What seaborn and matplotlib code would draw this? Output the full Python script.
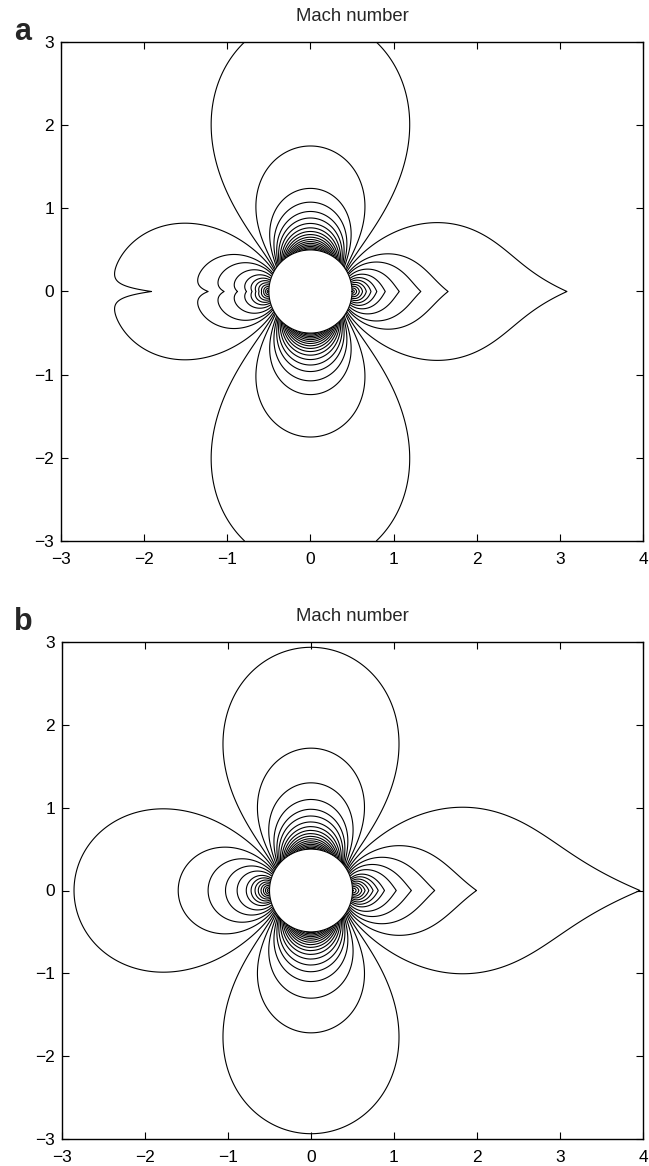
import numpy as np
import matplotlib
matplotlib.use("Agg")
import matplotlib.pyplot as plt
import seaborn as sns

# ---------------- data ----------------
panel_labels = ["a", "b"]
title_text = "Mach number"
x_ticks = [-3, -2, -1, 0, 1, 2, 3, 4]
y_ticks = [-3, -2, -1, 0, 1, 2, 3]
x_limits = [-3, 4]
y_limits = [-3, 3]

cylinder_radius = 0.5
mach_inf = 0.3

# contour levels (Mach number), panel a
levels_a = [0.005, 0.025, 0.048, 0.071, 0.094, 0.117, 0.140, 0.163, 0.1884,
            0.217, 0.2433, 0.2616, 0.287,
            0.3068, 0.3245, 0.3488, 0.365, 0.381, 0.3960, 0.4120, 0.428, 0.4440,
            0.460, 0.4760, 0.492, 0.5080, 0.524, 0.5400, 0.556, 0.5720, 0.588]
# contour levels (Mach number), panel b
levels_b = [0.009, 0.030, 0.051, 0.072, 0.093, 0.114, 0.135, 0.156, 0.1767,
            0.2053, 0.2293, 0.2512, 0.2707, 0.2908,
            0.3087, 0.3254, 0.3444, 0.3621, 0.378, 0.3927, 0.4095, 0.426, 0.4425,
            0.459, 0.4755, 0.492, 0.5085, 0.525, 0.5415, 0.558, 0.5745, 0.591]

# wake / stagnation-line disturbance parameters (speed-ratio units)
wake_a = dict(amp=0.055, ref=1.21, power=1.25, width0=0.08, width_slope=0.08, taper=0.25)
wake_b = dict(amp=0.065, ref=1.21, power=1.25, width0=0.10, width_slope=0.10, taper=0.12)
notch_a = dict(amp=0.045, ref=1.0, power=0.9, width=0.06)


def mach_field(X, Y, wake, notch=None):
    a2 = cylinder_radius ** 2
    r2 = X ** 2 + Y ** 2
    r4 = r2 ** 2
    u = 1.0 - a2 * (X ** 2 - Y ** 2) / r4
    v = -2.0 * a2 * X * Y / r4
    q = np.sqrt(u ** 2 + v ** 2)
    r = np.sqrt(r2)
    taper_w = 1.0 - np.exp(-(r - cylinder_radius) / wake["taper"])
    xp = np.clip(X, 0.3, None)
    w = wake["width0"] + wake["width_slope"] * xp
    d = wake["amp"] * (xp / wake["ref"]) ** (-wake["power"]) * np.exp(-np.abs(Y) / w)
    q = q - np.where(X > 0, d * taper_w, 0.0)
    if notch is not None:
        taper_n = 1.0 - np.exp(-(r - cylinder_radius) / 0.12)
        xn = np.clip(-X, 0.3, None)
        b = notch["amp"] * (xn / notch["ref"]) ** (-notch["power"]) * np.exp(-np.abs(Y) / notch["width"])
        q = q + np.where(X < 0, b * taper_n, 0.0)
    M = mach_inf * q
    return np.ma.masked_where(r < cylinder_radius, M)


sns.set_theme(style="ticks")
plt.rcParams["font.family"] = ["Liberation Sans", "DejaVu Sans"]
plt.rcParams["axes.unicode_minus"] = True

fig = plt.figure(figsize=(6.49, 11.66), dpi=100)
ax_a = fig.add_axes([61 / 649, 1 - 541 / 1166, 582 / 649, 499 / 1166])
ax_b = fig.add_axes([62 / 649, 1 - 1139 / 1166, 581 / 649, 497 / 1166])

xs = np.linspace(x_limits[0], x_limits[1], 1401)
ys = np.linspace(y_limits[0], y_limits[1], 1201)
X, Y = np.meshgrid(xs, ys)

fields = [mach_field(X, Y, wake_a, notch_a), mach_field(X, Y, wake_b)]
level_sets = [levels_a, levels_b]
label_y = [1 - 40 / 1166, 1 - 630 / 1166]

theta = np.linspace(0, 2 * np.pi, 361)
for ax, M, lev, lab, ly in zip([ax_a, ax_b], fields, level_sets, panel_labels, label_y):
    ax.contour(X, Y, M, levels=lev, colors="black", linewidths=0.8)
    sns.lineplot(x=cylinder_radius * np.cos(theta), y=cylinder_radius * np.sin(theta),
                 sort=False, color="black", linewidth=0.8, ax=ax, estimator=None)
    ax.set_xlim(x_limits)
    ax.set_ylim(y_limits)
    ax.set_xticks(x_ticks)
    ax.set_yticks(y_ticks)
    ax.tick_params(direction="in", length=5, width=0.8, top=True, right=True,
                   labelsize=12.5, colors="black", pad=5)
    ax.tick_params(axis="x", pad=8)
    for s in ax.spines.values():
        s.set_visible(True)
        s.set_linewidth(1.0)
        s.set_color("black")
    ax.set_title(title_text, fontsize=13.3, pad=15)
    ax.set_xlabel("")
    ax.set_ylabel("")
    fig.text(14 / 649, ly, lab, fontsize=22, fontweight="bold", ha="left", va="baseline")

fig.savefig("out.png", dpi=100)
